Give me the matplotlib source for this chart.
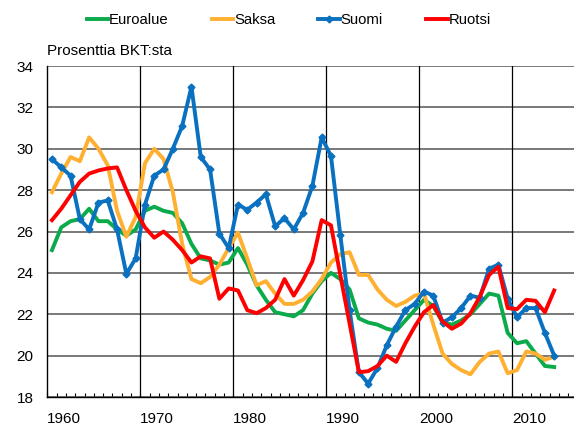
import numpy as np
import matplotlib
matplotlib.use("Agg")
import matplotlib.pyplot as plt
from matplotlib.ticker import MultipleLocator, FixedLocator

# --------------------------------------------------------------
# data: investointiaste, % BKT:sta
# --------------------------------------------------------------
years = list(range(1960, 2015))

euroalue = [25.1, 26.2, 26.5, 26.6, 27.1, 26.5, 26.5, 26.1, 25.8, 26.1,
            27.0, 27.2, 27.0, 26.9, 26.4, 25.4, 24.7, 24.6, 24.4, 24.5,
            25.2, 24.4, 23.4, 22.7, 22.1, 22.0, 21.9, 22.2, 23.0, 23.6,
            24.0, 23.7, 23.2, 21.8, 21.6, 21.5, 21.3, 21.2, 21.7, 22.2,
            22.7, 22.4, 21.6, 21.5, 21.7, 22.0, 22.5, 23.0, 22.9, 21.1,
            20.6, 20.7, 20.1, 19.5, 19.45]

saksa = [27.9, 28.8, 29.6, 29.4, 30.55, 30.0, 29.2, 27.0, 25.75, 26.7,
         29.3, 30.0, 29.5, 27.9, 25.4, 23.7, 23.5, 23.8, 24.4, 25.2,
         25.95, 24.7, 23.4, 23.6, 23.0, 22.5, 22.5, 22.7, 23.1, 23.7,
         24.5, 24.9, 25.0, 23.9, 23.9, 23.2, 22.7, 22.4, 22.6, 22.9,
         23.0, 21.5, 20.1, 19.6, 19.3, 19.1, 19.7, 20.1, 20.2, 19.15,
         19.3, 20.2, 20.1, 19.8, 19.95]

suomi = [29.5, 29.1, 28.7, 26.6, 26.1, 27.4, 27.5, 26.1, 23.95, 24.7,
         27.3, 28.7, 29.0, 30.0, 31.1, 33.0, 29.6, 29.0, 25.9, 25.2,
         27.3, 27.05, 27.4, 27.8, 26.25, 26.65, 26.1, 26.9, 28.2, 30.55,
         29.65, 25.85, 22.2, 19.2, 18.65, 19.4, 20.5, 21.4, 22.2, 22.5,
         23.1, 22.9, 21.6, 21.85, 22.3, 22.9, 22.8, 24.2, 24.4, 22.75,
         21.85, 22.3, 22.3, 21.1, 20.0]

ruotsi = [26.55, 27.1, 27.75, 28.4, 28.8, 28.95, 29.05, 29.1, 28.0, 27.0,
          26.2, 25.7, 26.0, 25.6, 25.1, 24.5, 24.8, 24.7, 22.75, 23.25,
          23.15, 22.2, 22.05, 22.3, 22.7, 23.7, 22.9, 23.65, 24.55, 26.55,
          26.3, 23.9, 21.55, 19.2, 19.25, 19.5, 20.0, 19.7, 20.6, 21.4,
          22.1, 22.45, 21.65, 21.3, 21.55, 22.05, 22.85, 23.9, 24.3, 22.3,
          22.25, 22.7, 22.65, 22.1, 23.15]

series_names = ["Euroalue", "Saksa", "Suomi", "Ruotsi"]
series_colors = ["#0BAA4B", "#FFB031", "#0A70C0", "#FF0000"]
decade_labels = ["1960", "1970", "1980", "1990", "2000", "2010"]

# --------------------------------------------------------------
# figure
# --------------------------------------------------------------
plt.rcParams["font.family"] = ["Liberation Sans", "DejaVu Sans"]

fig = plt.figure(figsize=(5.74, 4.30), dpi=100)
ax = fig.add_axes([0.0824, 0.0767, 0.9176, 0.7698])

for name, vals, col in zip(series_names, [euroalue, saksa, suomi, ruotsi], series_colors):
    if name == "Suomi":
        ax.plot(years, vals, color=col, lw=2.8, marker="D", ms=3.5,
                label=name, solid_joinstyle="round", zorder=3)
    else:
        ax.plot(years, vals, color=col, lw=2.8, label=name,
                solid_joinstyle="round", zorder=4 if name == "Ruotsi" else 2)

ax.set_xlim(1959.5, 2016.13)
ax.set_ylim(18, 34)

# y axis
ax.yaxis.set_major_locator(MultipleLocator(2))
ax.tick_params(axis="y", length=0, pad=10, labelsize=11)
ax.grid(axis="y", color="#555555", lw=1.1)

# x axis: labels start at the decade grid lines
grid_pos = [1959.5 + 10 * i for i in range(len(decade_labels))]
ax.xaxis.set_major_locator(FixedLocator(grid_pos))
ax.set_xticklabels(decade_labels)
for lab in ax.get_xticklabels():
    lab.set_horizontalalignment("left")
ax.xaxis.set_minor_locator(FixedLocator([y - 0.5 for y in range(1960, 2017)]))
ax.tick_params(axis="x", which="both", direction="in", length=3, width=0.8,
               pad=11, labelsize=11)
for gx in grid_pos[1:]:
    ax.axvline(gx, color="black", lw=0.9, zorder=1)

ax.set_axisbelow(True)
for side in ["top", "right"]:
    ax.spines[side].set_visible(False)
for side in ["left", "bottom"]:
    ax.spines[side].set_color("black")
    ax.spines[side].set_linewidth(1.0)

fig.text(0.082, 0.881, "Prosenttia BKT:sta", fontsize=11, ha="left", va="center")

fig.legend(loc="center", bbox_to_anchor=(0.503, 0.953), ncol=4, frameon=False,
           fontsize=10.7, handlelength=1.45, handletextpad=0.05, columnspacing=2.9)

fig.savefig("out.png", dpi=100)
